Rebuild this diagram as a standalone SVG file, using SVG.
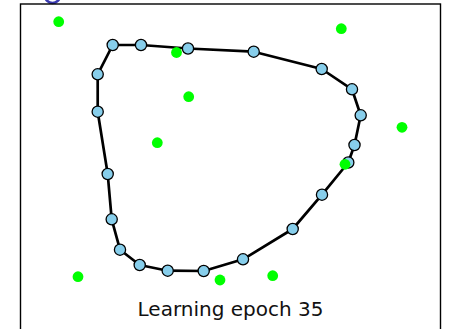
<svg xmlns="http://www.w3.org/2000/svg" width="450" height="329" viewBox="0 0 450 329">
  <style>
    .frame { fill: none; stroke: #000; stroke-width: 1.4; }
    .ring { fill: none; stroke: #3a3ab0; stroke-width: 2.6; }
    .edge { fill: none; stroke: #000; stroke-width: 2.7; stroke-linejoin: round; }
    .unit { fill: #87ceeb; stroke: #000; stroke-width: 1.3; }
    .sample { fill: #00ff00; }
    .caption { font-family: "DejaVu Sans", sans-serif; font-size: 20px; fill: #111; text-anchor: middle; }
  </style>
  <rect width="450" height="329" fill="#fff"/>
  <circle class="ring" cx="52.5" cy="-4.5" r="7.5"/>
  <rect class="frame" x="20.5" y="4" width="420" height="340"/>

  <g id="connectors">
    <polygon class="edge" points="112.7,45 141,45 188,48.5 253.7,51.7 321.7,69 352,89.3 360.7,115.3 354.5,145 348.3,162.5 322,194.7 292.7,229 243,259.3 203.7,271 167.7,270.7 139.7,265 120,249.7 111.7,219.3 107.7,174 97.7,111.7 97.7,74.3"/>
  </g>

  <g id="units">
    <g id="u1"><circle class="unit" cx="112.7" cy="45" r="5.6"/></g>
    <g id="u2"><circle class="unit" cx="141" cy="45" r="5.6"/></g>
    <g id="u3"><circle class="unit" cx="188" cy="48.5" r="5.6"/></g>
    <g id="u4"><circle class="unit" cx="253.7" cy="51.7" r="5.6"/></g>
    <g id="u5"><circle class="unit" cx="321.7" cy="69" r="5.6"/></g>
    <g id="u6"><circle class="unit" cx="352" cy="89.3" r="5.6"/></g>
    <g id="u7"><circle class="unit" cx="360.7" cy="115.3" r="5.6"/></g>
    <g id="u8"><circle class="unit" cx="354.5" cy="145" r="5.6"/></g>
    <g id="u9"><circle class="unit" cx="348.3" cy="162.5" r="5.6"/></g>
    <g id="u10"><circle class="unit" cx="322" cy="194.7" r="5.6"/></g>
    <g id="u11"><circle class="unit" cx="292.7" cy="229" r="5.6"/></g>
    <g id="u12"><circle class="unit" cx="243" cy="259.3" r="5.6"/></g>
    <g id="u13"><circle class="unit" cx="203.7" cy="271" r="5.6"/></g>
    <g id="u14"><circle class="unit" cx="167.7" cy="270.7" r="5.6"/></g>
    <g id="u15"><circle class="unit" cx="139.7" cy="265" r="5.6"/></g>
    <g id="u16"><circle class="unit" cx="120" cy="249.7" r="5.6"/></g>
    <g id="u17"><circle class="unit" cx="111.7" cy="219.3" r="5.6"/></g>
    <g id="u18"><circle class="unit" cx="107.7" cy="174" r="5.6"/></g>
    <g id="u19"><circle class="unit" cx="97.7" cy="111.7" r="5.6"/></g>
    <g id="u20"><circle class="unit" cx="97.7" cy="74.3" r="5.6"/></g>
  </g>

  <g id="samples">
    <circle class="sample" cx="58.7" cy="21.7" r="5.4"/>
    <circle class="sample" cx="176.5" cy="52.5" r="5.4"/>
    <circle class="sample" cx="188.7" cy="96.7" r="5.4"/>
    <circle class="sample" cx="157.3" cy="142.7" r="5.4"/>
    <circle class="sample" cx="341.3" cy="28.7" r="5.4"/>
    <circle class="sample" cx="402" cy="127.3" r="5.4"/>
    <circle class="sample" cx="345" cy="164.3" r="5.4"/>
    <circle class="sample" cx="78" cy="276.7" r="5.4"/>
    <circle class="sample" cx="220" cy="280" r="5.4"/>
    <circle class="sample" cx="272.7" cy="275.7" r="5.4"/>
  </g>

  <text class="caption" x="230.5" y="315.5">Learning epoch 35</text>
</svg>
